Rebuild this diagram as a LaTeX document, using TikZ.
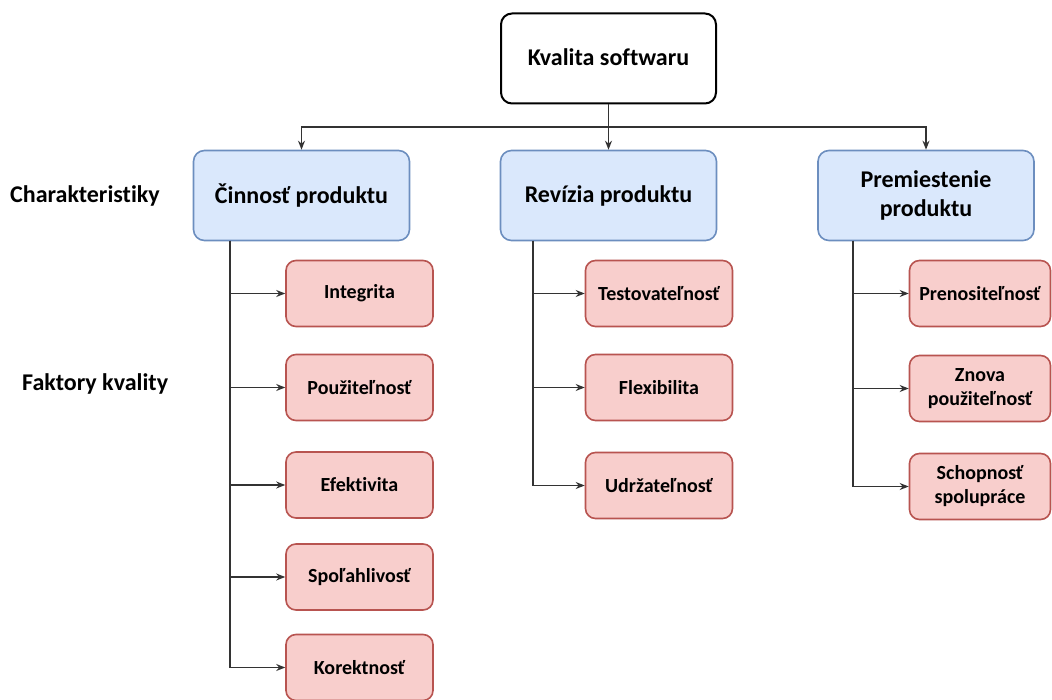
\documentclass[tikz,border=0pt]{standalone}
\usepackage{fontspec}
\setmainfont{Carlito}[Ligatures=NoCommon]
\usetikzlibrary{arrows.meta}
\definecolor{bfill}{HTML}{DAE8FC}
\definecolor{bdraw}{HTML}{6C8EBF}
\definecolor{rfill}{HTML}{F8CECC}
\definecolor{rdraw}{HTML}{B85450}
\definecolor{lin}{HTML}{333333}
\tikzset{
  topbox/.style={draw=black, line width=2pt, fill=white, rounded corners=11pt, minimum width=215pt, minimum height=90pt, font=\fontsize{24}{28}\selectfont\bfseries, inner sep=0pt},
  charbox/.style={draw=bdraw, line width=1.6pt, fill=bfill, rounded corners=11pt, minimum width=216pt, minimum height=90pt, font=\fontsize{24}{29}\selectfont\bfseries, align=center, inner sep=0pt},
  facbox/.style={draw=rdraw, line width=1.6pt, fill=rfill, rounded corners=10pt, minimum width=147pt, minimum height=66pt, font=\fontsize{20}{24}\selectfont\bfseries, align=center, inner sep=0pt},
  sidelbl/.style={font=\fontsize{24}{28}\selectfont\bfseries, inner sep=0pt},
  conn/.style={draw=lin, line width=1.5pt, -{Stealth[length=9pt,width=7pt]}},
  plain/.style={draw=lin, line width=1.5pt}
}
\begin{document}
\begin{tikzpicture}[x=1pt,y=-1pt]
\useasboundingbox (0,0) rectangle (1052,700);
\fill[white] (0,0) rectangle (1052,700);

\node[topbox] (top) at (608.5,58.5) {\raisebox{2pt}{Kvalita softwaru}};

\node[charbox] (b1) at (301.5,195.5) {Činnosť produktu};
\node[charbox] (b2) at (608.5,195.5) {\raisebox{3pt}{Revízia produktu}};
\node[charbox] (b3) at (926,195.5) {Premiestenie\\produktu};

\node[sidelbl, anchor=west] (l1) at (10,196) {Charakteristiky};
\node[sidelbl, anchor=west] (l2) at (22,384) {Faktory kvality};

\node[facbox] (f11) at (359.5,293.5) {Integrita};
\node[facbox] (f12) at (359.5,387.5) {Použiteľnosť};
\node[facbox] (f13) at (359.5,485) {Efektivita};
\node[facbox] (f14) at (359.5,577) {Spoľahlivosť};
\node[facbox] (f15) at (359.5,667.5) {Korektnosť};

\node[facbox] (f21) at (659,293.5) {Testovateľnosť};
\node[facbox] (f22) at (659,387.5) {Flexibilita};
\node[facbox] (f23) at (659,485.5) {Udržateľnosť};

\node[facbox, minimum width=141pt] (f31) at (980,293.5) {Prenositeľnosť};
\node[facbox, minimum width=141pt] (f32) at (980,388.5) {Znova\\použiteľnosť};
\node[facbox, minimum width=141pt] (f33) at (980,486.5) {Schopnosť\\spolupráce};

% top connectors
\coordinate (j) at (608.5,127);
\draw[conn] (top.south) -- (b2.north);
\draw[conn] (j) -| (b1.north);
\draw[conn] (j) -| (b3.north);

% trunks
\coordinate (t1) at (230,241);
\coordinate (t2) at (533,241);
\coordinate (t3) at (853,241);
\foreach \f in {f11,f12,f13,f14,f15} \draw[conn] (t1) |- (\f.west);
\foreach \f in {f21,f22,f23} \draw[conn] (t2) |- (\f.west);
\foreach \f in {f31,f32,f33} \draw[conn] (t3) |- (\f.west);
\end{tikzpicture}
\end{document}
